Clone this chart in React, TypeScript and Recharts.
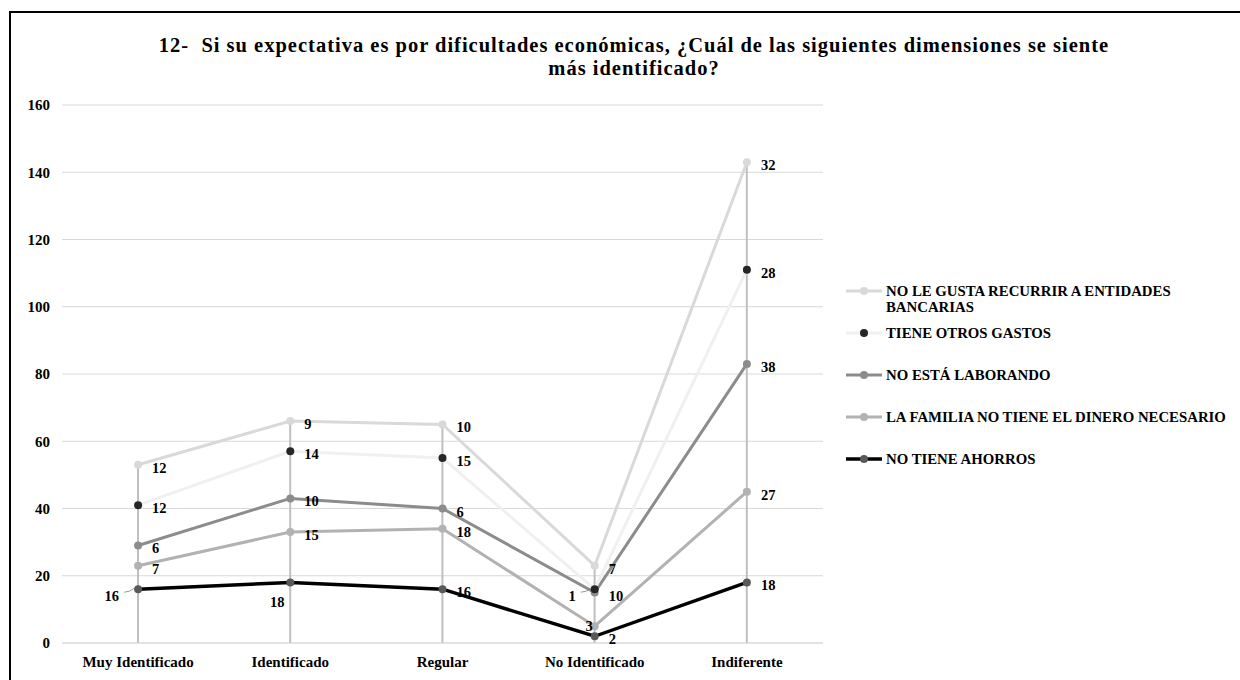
import React from 'react';
import { ComposedChart, Line, Bar, XAxis, YAxis, CartesianGrid, LabelList } from 'recharts';

const categories = ['Muy Identificado', 'Identificado', 'Regular', 'No Identificado', 'Indiferente'];

// stack order: bottom -> top
const noTieneAhorros = [16, 18, 16, 2, 18];
const familiaSinDinero = [7, 15, 18, 3, 27];
const noEstaLaborando = [6, 10, 6, 10, 38];
const tieneOtrosGastos = [12, 14, 15, 1, 28];
const noLeGustaBancos = [12, 9, 10, 7, 32];

const yTicks = [0, 20, 40, 60, 80, 100, 120, 140, 160];

const FONT = '"Liberation Serif", "Times New Roman", serif';

type Placement = 'right' | 'left' | 'below' | 'leftLeader';

interface SeriesDef {
    key: string;
    name: string;
    values: number[];
    stroke: string;
    dotFill: string;
    width: number;
    placements?: Record<number, Placement>;
}

const series: SeriesDef[] = [
    { key: 'ahorros', name: 'NO TIENE AHORROS', values: noTieneAhorros, stroke: '#000000', dotFill: '#595959', width: 3.5, placements: { 0: 'leftLeader', 1: 'below' } },
    { key: 'familia', name: 'LA FAMILIA NO TIENE EL DINERO NECESARIO', values: familiaSinDinero, stroke: '#b2b2b2', dotFill: '#b2b2b2', width: 3, placements: { 3: 'left' } },
    { key: 'laborando', name: 'NO ESTÁ LABORANDO', values: noEstaLaborando, stroke: '#8c8c8c', dotFill: '#8c8c8c', width: 3 },
    { key: 'gastos', name: 'TIENE OTROS GASTOS', values: tieneOtrosGastos, stroke: '#f0f0f0', dotFill: '#262626', width: 3, placements: { 3: 'leftLeader' } },
    { key: 'bancos', name: 'NO LE GUSTA RECURRIR A ENTIDADES BANCARIAS', values: noLeGustaBancos, stroke: '#d9d9d9', dotFill: '#d9d9d9', width: 3 },
];

const data = categories.map((cat, i) => {
    const row: any = { cat };
    let acc = 0;
    series.forEach(s => {
        acc += s.values[i];
        row[s.key] = s.values[i];
        row[s.key + '_cum'] = acc;
    });
    row.total = acc;
    return row;
});

const makeLabel = (s: SeriesDef) => (props: any) => {
    const { x, y, value, index } = props;
    const place: Placement = (s.placements && s.placements[index]) || 'right';
    const common = { fontFamily: FONT, fontWeight: 700, fontSize: 14.5, fill: '#000', dominantBaseline: 'central' as const };
    if (place === 'below') {
        return <text x={x - 13} y={y + 20} textAnchor="middle" {...common}>{value}</text>;
    }
    if (place === 'left') {
        return <text x={x - 2} y={y} textAnchor="end" {...common}>{value}</text>;
    }
    if (place === 'leftLeader') {
        return (
            <g>
                <path d={`M${x - 4},${y - 1} Q${x - 8},${y + 3} ${x - 14},${y + 3}`} stroke="#7f7f7f" strokeWidth={0.8} fill="none" />
                <text x={x - 19} y={y + 7} textAnchor="end" {...common}>{value}</text>
            </g>
        );
    }
    return <text x={x + 14} y={y + 3} textAnchor="start" {...common}>{value}</text>;
};

const legendOrder = [...series].reverse();

const ChartLegend: React.FC = () => (
    <div style={{ position: 'absolute', left: 845, top: 283, width: 395, fontFamily: FONT, fontWeight: 700, fontSize: 14.8, color: '#000' }}>
        {legendOrder.map(s => (
            <div key={s.key} style={{ display: 'flex', alignItems: 'flex-start', height: 42 }}>
                <svg width={38} height={16} style={{ flex: 'none' }}>
                    <line x1={1} y1={8} x2={37} y2={8} stroke={s.stroke} strokeWidth={s.width} />
                    <circle cx={19} cy={8} r={4} fill={s.dotFill} />
                </svg>
                <span style={{ width: 350, lineHeight: '16px', marginLeft: 3 }}>{s.name}</span>
            </div>
        ))}
    </div>
);

const App: React.FC = () => {
    return (
        <div style={{ position: 'absolute', left: 0, top: 0, width: 1240, height: 680, overflow: 'hidden', background: '#fff' }}>
            <div style={{ position: 'absolute', left: 9, top: 11, width: 1260, height: 700, border: '2px solid #000', boxSizing: 'border-box' }} />
            <div style={{ position: 'absolute', left: 0, top: 34, width: 1268, textAlign: 'center', fontFamily: FONT, fontWeight: 700, fontSize: 20.5, letterSpacing: 1, lineHeight: '23px', color: '#000' }}>
                <div>12-&nbsp; Si su expectativa es por dificultades económicas, ¿Cuál de las siguientes dimensiones se siente</div>
                <div>más identificado?</div>
            </div>
            <div style={{ position: 'absolute', left: 0, top: 0 }}>
                <ComposedChart width={1240} height={680} data={data} margin={{ top: 105, right: 417, bottom: 0, left: 0 }}>
                    <CartesianGrid vertical={false} stroke="#d9d9d9" strokeWidth={1.2} />
                    <XAxis
                        dataKey="cat"
                        height={37}
                        axisLine={{ stroke: '#d9d9d9', strokeWidth: 1.2 }}
                        tickLine={false}
                        tickSize={0}
                        tickMargin={13}
                        tick={{ fontFamily: FONT, fontWeight: 700, fontSize: 15, fill: '#000' }}
                    />
                    <YAxis
                        width={62}
                        domain={[0, 160]}
                        ticks={yTicks}
                        axisLine={false}
                        tickLine={false}
                        tickSize={0}
                        tickMargin={12}
                        tick={{ fontFamily: FONT, fontWeight: 700, fontSize: 15, fill: '#000' }}
                    />
                    <Bar dataKey="total" barSize={2} fill="#bfbfbf" isAnimationActive={false} />
                    {series.map(s => (
                        <Line
                            key={s.key}
                            type="linear"
                            dataKey={s.key + '_cum'}
                            name={s.name}
                            stroke={s.stroke}
                            strokeWidth={s.width}
                            dot={{ r: 4, fill: s.dotFill, stroke: s.dotFill, strokeWidth: 0 }}
                            activeDot={false}
                            isAnimationActive={false}
                        >
                            <LabelList dataKey={s.key} content={makeLabel(s)} />
                        </Line>
                    ))}
                </ComposedChart>
            </div>
            <ChartLegend />
        </div>
    );
};

export default App;
